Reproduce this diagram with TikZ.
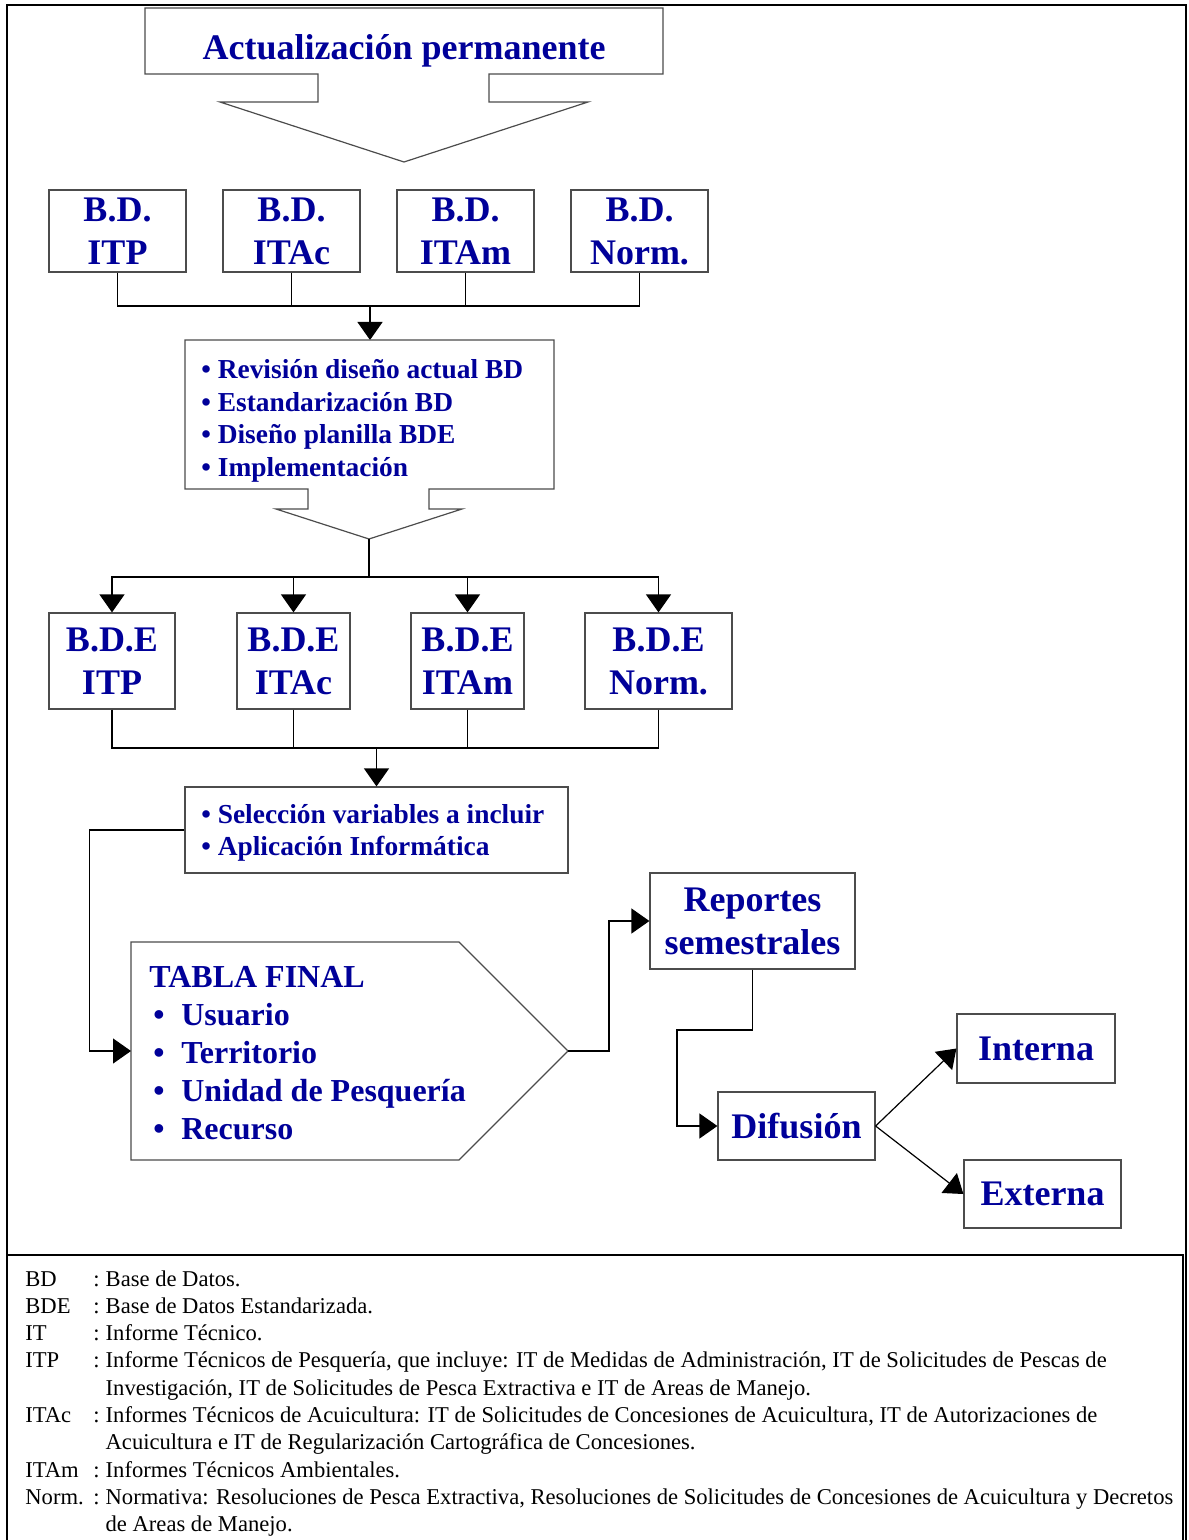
\documentclass[tikz,border=0pt]{standalone}
\usepackage{fontspec}
\setmainfont{Liberation Serif}
\usetikzlibrary{arrows.meta}
\definecolor{dbblue}{RGB}{0,0,153}
\newcommand{\tabitem}[1]{\makebox[16pt][l]{\hspace{2pt}\textbullet}#1}

\begin{document}
\begin{tikzpicture}[
  x=0.5pt, y=-0.5pt,
  box/.style={draw=black!70, line width=0.6pt, inner sep=0pt, align=center, text=dbblue, font=\bfseries\fontsize{18}{21.5}\selectfont},
  dbbox/.style={box, minimum width=68.5pt, minimum height=41pt},
  bdebox/.style={box, minimum height=48pt},
  shapeline/.style={draw=black!70, line width=0.6pt},
  bullets/.style={inner sep=0pt, align=left, text=dbblue, font=\bfseries\fontsize{13.7}{16.3}\selectfont},
  conn/.style={line width=0.6pt},
  >={Triangle[length=9pt,width=12.5pt]}
]
  \useasboundingbox (0,0) rectangle (1188,1540);
  % page frame and legend frame
  \draw[line width=0.6pt] (7,1540) -- (7,5) -- (1186,5) -- (1186,1540);
  \draw[line width=0.6pt] (7,1255) -- (1183,1255) -- (1183,1540);

  % title callout
  \draw[shapeline] (145,8) -- (663,8) -- (663,74) -- (489,74) -- (489,102) -- (588,102) -- (404,162) -- (220,102) -- (318,102) -- (318,74) -- (145,74) -- cycle;
  \node[inner sep=0pt, text=dbblue, font=\bfseries\fontsize{18}{21.5}\selectfont] (title) at (404,51) {Actualización permanente};

  \node[dbbox] (bd1) at (117.5,231) {B.D.\\ITP};
  \node[dbbox] (bd2) at (291.5,231) {B.D.\\ITAc};
  \node[dbbox] (bd3) at (465.5,231) {B.D.\\ITAm};
  \node[dbbox] (bd4) at (639.5,231) {B.D.\\Norm.};
  \coordinate (join1) at (370,306);
  \coordinate (revtop) at (370,340);
  \draw[conn] (bd1.south) |- (join1);
  \draw[conn] (bd2.south) |- (join1);
  \draw[conn] (bd3.south) |- (join1);
  \draw[conn] (bd4.south) |- (join1);
  \draw[conn,->] (join1) -- (revtop);

  % review callout
  \draw[shapeline] (185,340) -- (554,340) -- (554,489) -- (429,489) -- (429,509) -- (462,509) -- (369,539) -- (276,509) -- (308,509) -- (308,489) -- (185,489) -- cycle;
  \node[bullets, anchor=west] (rev) at (201,421) {\textbullet\ Revisión diseño actual BD\\\textbullet\ Estandarización BD\\\textbullet\ Diseño planilla BDE\\\textbullet\ Implementación};
  \coordinate (revtip) at (369,539);
  \coordinate (split) at (369,577);

  \node[bdebox, minimum width=63pt] (bde1) at (112,661) {B.D.E\\ITP};
  \node[bdebox, minimum width=56.5pt] (bde2) at (293.5,661) {B.D.E\\ITAc};
  \node[bdebox, minimum width=56.5pt] (bde3) at (467.5,661) {B.D.E\\ITAm};
  \node[bdebox, minimum width=73.5pt] (bde4) at (658.5,661) {B.D.E\\Norm.};
  \draw[conn] (revtip) -- (split);
  \draw[conn,->] (split) -| (bde1.north);
  \draw[conn,->] (split) -| (bde2.north);
  \draw[conn,->] (split) -| (bde3.north);
  \draw[conn,->] (split) -| (bde4.north);

  \node[box, minimum width=191.5pt, minimum height=43pt] (sel) at (376.5,830) {};
  \node[bullets, anchor=west] (seltext) at (201,833) {\textbullet\ Selección variables a incluir\\\textbullet\ Aplicación Informática};
  \coordinate (join2) at (376.5,748);
  \draw[conn] (bde1.south) |- (join2);
  \draw[conn] (bde2.south) |- (join2);
  \draw[conn] (bde3.south) |- (join2);
  \draw[conn] (bde4.south) |- (join2);
  \draw[conn,->] (join2) -- (sel.north);

  % final table
  \draw[shapeline] (131,942) -- (459,942) -- (568,1051) -- (459,1160) -- (131,1160) -- cycle;
  \coordinate (tabin) at (131,1051);
  \coordinate (tabtip) at (568,1051);
  \node[inner sep=0pt, align=left, anchor=west, text=dbblue, font=\bfseries\fontsize{16}{19}\selectfont] (tab) at (149,1053) {TABLA FINAL\\\tabitem{Usuario}\\\tabitem{Territorio}\\\tabitem{Unidad de Pesquería}\\\tabitem{Recurso}};
  \draw[conn,->] (sel.west) -- ++(-95,0) |- (tabin);

  \node[box, minimum width=102.5pt, minimum height=48pt] (rep) at (752.5,921) {Reportes\\semestrales};
  \node[box, minimum width=78.5pt, minimum height=34pt] (dif) at (796.5,1126) {Difusión};
  \node[box, minimum width=79pt, minimum height=34.5pt] (int) at (1036,1048.5) {Interna};
  \node[box, minimum width=78.5pt, minimum height=34pt] (ext) at (1042.5,1194) {Externa};
  \draw[conn,->] (tabtip) -- ++(41,0) |- (rep.west);
  \draw[conn,->] (rep.south) |- (677,1030) |- (dif.west);
  \draw[conn,->] (dif.east) -- (int.west);
  \draw[conn,->] (dif.east) -- (ext.west);

  % legend
  \node[anchor=north west, inner sep=0pt, font=\fontsize{11.3}{13.65}\selectfont] (legend) at (25,1266.5) {\begin{tabular}{@{}p{34pt}@{}l@{\hspace{3pt}}l@{}}
BD & : & Base de Datos.\\
BDE & : & Base de Datos Estandarizada.\\
IT & : & Informe Técnico.\\
ITP & : & Informe Técnicos de Pesquería, que incluye: IT de Medidas de Administración, IT de Solicitudes de Pescas de\\
 & & Investigación, IT de Solicitudes de Pesca Extractiva e IT de Areas de Manejo.\\
ITAc & : & Informes Técnicos de Acuicultura: IT de Solicitudes de Concesiones de Acuicultura, IT de Autorizaciones de\\
 & & Acuicultura e IT de Regularización Cartográfica de Concesiones.\\
ITAm & : & Informes Técnicos Ambientales.\\
Norm. & : & Normativa: Resoluciones de Pesca Extractiva, Resoluciones de Solicitudes de Concesiones de Acuicultura y Decretos\\
 & & de Areas de Manejo.
\end{tabular}};
\end{tikzpicture}
\end{document}
